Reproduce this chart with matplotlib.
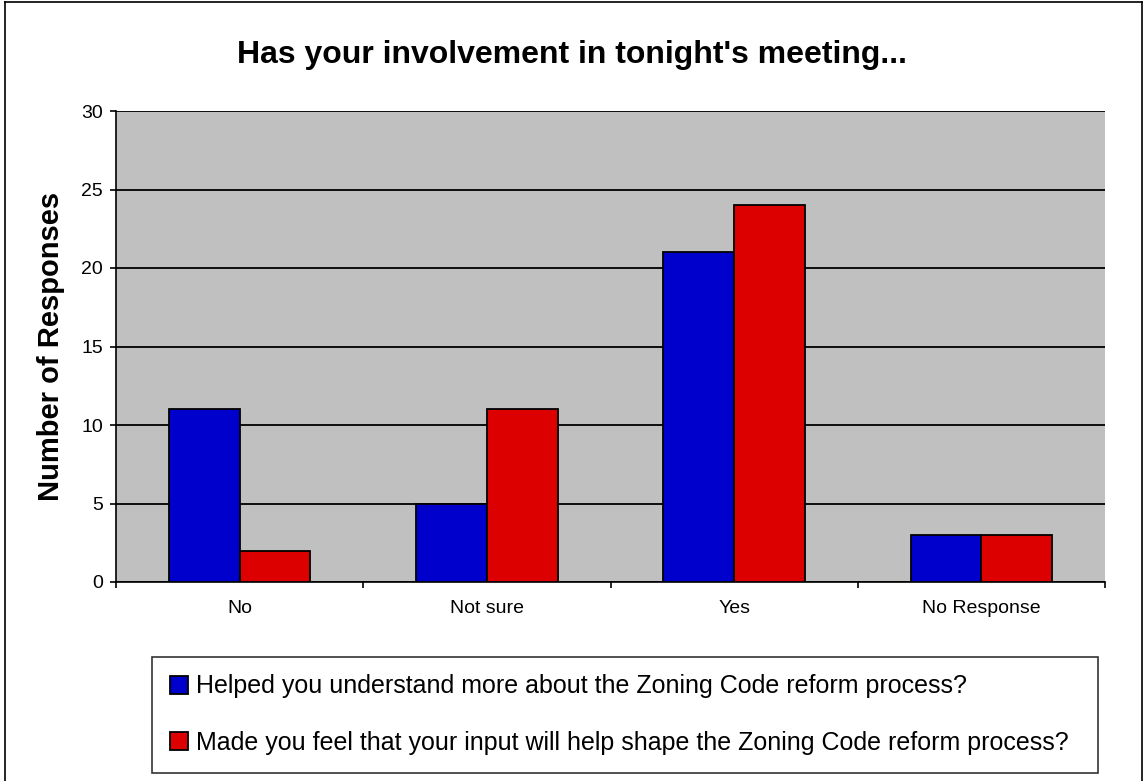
import matplotlib
matplotlib.use("Agg")
import matplotlib.pyplot as plt
from matplotlib.lines import Line2D
import numpy as np

categories = ["No", "Not sure", "Yes", "No Response"]
series_names = [
    "Helped you understand more about the Zoning Code reform process?",
    "Made you feel that your input will help shape the Zoning Code reform process?",
]
understand = [11, 5, 21, 3]
input_shape = [2, 11, 24, 3]
colors = ["#0000CC", "#DD0000"]

plt.rcParams['font.family'] = ['Liberation Sans', 'DejaVu Sans']

fig = plt.figure(figsize=(11.44, 7.81), dpi=100)
W, H = 1144, 781
ax = fig.add_axes([116 / W, 1 - 582 / H, (1105 - 116) / W, (582 - 111) / H])
ax.set_facecolor("#C0C0C0")

x = np.arange(len(categories))
bw = 1 / 3.5
ax.bar(x - bw / 2, understand, bw, color=colors[0], edgecolor="black", linewidth=1.3,
       label=series_names[0], zorder=3)
ax.bar(x + bw / 2, input_shape, bw, color=colors[1], edgecolor="black", linewidth=1.3,
       label=series_names[1], zorder=3)

ax.set_xlim(-0.5, len(categories) - 0.5)
ax.set_ylim(0, 30)
ax.set_yticks(range(0, 31, 5))
ax.yaxis.grid(True, color="black", linewidth=1.3, zorder=1)
ax.set_axisbelow(True)

ax.set_xticks(np.arange(-0.5, len(categories), 1))
ax.set_xticklabels([])
ax.set_xticks(x, minor=True)
ax.set_xticklabels(categories, minor=True, fontsize=14)
ax.tick_params(axis="x", which="minor", length=0, pad=13)
ax.tick_params(axis="x", which="major", length=4.5, width=1.2, direction="out")
ax.tick_params(axis="y", length=4.5, width=1.2, direction="out", labelsize=14, pad=5)

for s in ["top", "right"]:
    ax.spines[s].set_visible(False)
ax.spines["left"].set_linewidth(1.2)
ax.spines["bottom"].set_linewidth(1.2)

ax.set_ylabel("Number of Responses", fontsize=21, fontweight="bold")
ax.yaxis.set_label_coords((65 - 116) / (1105 - 116), 0.5)
fig.text(572 / W, 1 - 55 / H, "Has your involvement in tonight's meeting...",
         fontsize=23, fontweight="bold", ha="center", va="center")

handles, labels = ax.get_legend_handles_labels()
leg = fig.legend(handles, labels, loc="upper left",
                 bbox_to_anchor=(152 / W, 1 - 657 / H, (1098 - 152) / W, 0.0),
                 mode="expand", fontsize=18,
                 frameon=True, fancybox=False, edgecolor="black",
                 handlelength=0.72, handleheight=0.72, handletextpad=0.32,
                 labelspacing=1.3, borderpad=0.7, borderaxespad=0)
leg.get_frame().set_linewidth(1.2)

# outer chart border (left, top, right)
fig.add_artist(Line2D([5 / W, 5 / W], [0, 1 - 2 / H], transform=fig.transFigure,
                      color="black", linewidth=1.2))
fig.add_artist(Line2D([5 / W, 1 - 2 / W], [1 - 2 / H, 1 - 2 / H], transform=fig.transFigure,
                      color="black", linewidth=1.2))
fig.add_artist(Line2D([1 - 2 / W, 1 - 2 / W], [0, 1 - 2 / H], transform=fig.transFigure,
                      color="black", linewidth=1.2))

fig.savefig("out.png", dpi=100, facecolor="white")
